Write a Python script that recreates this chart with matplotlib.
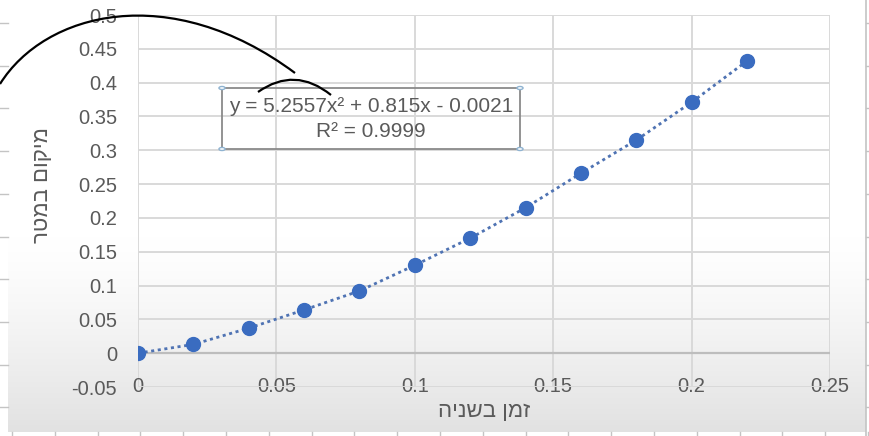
import numpy as np
import matplotlib
matplotlib.use("Agg")
import matplotlib.pyplot as plt
from matplotlib.path import Path
from matplotlib.patches import PathPatch, Rectangle, Circle

# ---- data ----
time_s = [0, 0.02, 0.04, 0.06, 0.08, 0.10, 0.12, 0.14, 0.16, 0.18, 0.20, 0.22]
position_m = [0, 0.013, 0.037, 0.064, 0.092, 0.130, 0.170, 0.215, 0.266, 0.315, 0.371, 0.432]
x_ticks = [0, 0.05, 0.1, 0.15, 0.2, 0.25]
x_tick_labels = ["0", "0.05", "0.1", "0.15", "0.2", "0.25"]
y_ticks = [-0.05, 0, 0.05, 0.1, 0.15, 0.2, 0.25, 0.3, 0.35, 0.4, 0.45, 0.5]
y_tick_labels = ["-0.05", "0", "0.05", "0.1", "0.15", "0.2", "0.25", "0.3", "0.35", "0.4", "0.45", "0.5"]
x_title = "זמן בשניה"
y_title = "מיקום במטר"
eq_line1 = "y = 5.2557x² + 0.815x - 0.0021"
eq_line2 = "R² = 0.9999"

FAM = ["Liberation Sans", "DejaVu Sans"]
plt.rcParams["font.family"] = FAM
GRAY_TXT = "#5a5a5a"
W, H = 870, 436

def fx(px):
    return px / W

def fy(py):
    return 1 - py / H

fig = plt.figure(figsize=(8.7, 4.36), dpi=100)
fig.patch.set_facecolor("white")

# background gradient (screenshot shading)
bg = fig.add_axes([fx(8), fy(432), fx(866) - fx(8), fy(0) - fy(432)], zorder=0)
rows = np.linspace(0, 1, 432)
shade = np.clip((rows - 0.55) / 0.45, 0, 1) ** 1.3
col = 1 - 0.115 * shade
img = np.repeat(col[:, None], 10, axis=1)
img = np.dstack([img, img, img])
bg.imshow(img, aspect="auto", extent=[0, 1, 0, 1], origin="upper", interpolation="bilinear")
bg.set_axis_off()

# spreadsheet edge lines / ticks
edge_col = "#c4c4c4"
fig.add_artist(plt.Line2D([fx(866), fx(866)], [0, 1], color=edge_col, lw=1.2))
for k in range(10):
    yy = 23 + 42.7 * k
    fig.add_artist(plt.Line2D([fx(866), fx(870)], [fy(yy), fy(yy)], color=edge_col, lw=1))
    fig.add_artist(plt.Line2D([fx(0), fx(8)], [fy(yy), fy(yy)], color=edge_col, lw=1))
for k in range(21):
    xx = 12 + 42.8 * k
    fig.add_artist(plt.Line2D([fx(xx), fx(xx)], [fy(432), fy(436)], color=edge_col, lw=1))

ax = fig.add_axes([fx(138), fy(387), fx(830) - fx(138), fy(15) - fy(387)], zorder=2)
ax.set_facecolor("none")
ax.set_xlim(0, 0.25)
ax.set_ylim(-0.05, 0.5)
ax.set_xticks(x_ticks)
ax.set_xticklabels(x_tick_labels)
ax.set_yticks(y_ticks)
ax.set_yticklabels(y_tick_labels)
ax.grid(True, color="#d9d9d9", lw=1.4)
ax.set_axisbelow(True)
for s in ax.spines.values():
    s.set_visible(False)
ax.axhline(0, color="#bdbdbd", lw=1.6, zorder=1)
ax.tick_params(axis="both", length=0, labelsize=14.5, labelcolor=GRAY_TXT)
ax.tick_params(axis="x", pad=-7)
ax.tick_params(axis="y", pad=15)

ax.plot(time_s, position_m, linestyle=(0, (1.1, 1.3)), color="#4f73b3", lw=2.0, zorder=3)
ax.plot(time_s, position_m, "o", color="#3a6cc0", markersize=10, markeredgecolor="#3a6cc0", zorder=4)

# axis titles
fig.text(fx(484), fy(411), x_title[::-1], ha="center", va="center", fontsize=16, color=GRAY_TXT, family=FAM)
fig.text(fx(43), fy(185), y_title[::-1], ha="center", va="center", rotation=90, fontsize=16, color=GRAY_TXT, family=FAM)

# equation box (trendline label, selected: no fill, border + handles)
box = Rectangle((fx(222), fy(149)), fx(520) - fx(222), fy(88) - fy(149), transform=fig.transFigure,
                facecolor="none", edgecolor="#8a8a8a", lw=1.3, zorder=5)
fig.add_artist(box)
for (cx, cy) in [(222, 88), (520, 88), (222, 149), (520, 149)]:
    fig.add_artist(Circle((fx(cx), fy(cy)), 0.0035, transform=fig.transFigure,
                          facecolor="white", edgecolor="#8fb3d1", lw=1, zorder=6))
fig.text(fx(371), fy(106), eq_line1, ha="center", va="center", fontsize=15, color=GRAY_TXT, zorder=7)
fig.text(fx(371), fy(131), eq_line2, ha="center", va="center", fontsize=15, color=GRAY_TXT, zorder=7)

# hand-drawn arcs
big = Path([(fx(0), fy(84)), (fx(45), fy(12)), (fx(170), fy(-20)), (fx(295), fy(73))],
           [Path.MOVETO, Path.CURVE4, Path.CURVE4, Path.CURVE4])
fig.add_artist(PathPatch(big, transform=fig.transFigure, facecolor="none", edgecolor="black", lw=1.6, zorder=8))
small = Path([(fx(258), fy(92)), (fx(295), fy(66)), (fx(331), fy(95))],
             [Path.MOVETO, Path.CURVE3, Path.CURVE3])
fig.add_artist(PathPatch(small, transform=fig.transFigure, facecolor="none", edgecolor="black", lw=1.6, zorder=8))

fig.savefig("out.png", dpi=100)
